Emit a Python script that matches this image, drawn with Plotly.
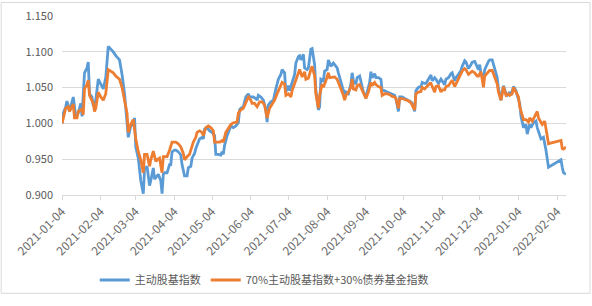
import pandas as pd
import plotly.graph_objects as go

start_date = "2021-01-04"
series_names = ["主动股基指数", "70%主动股基指数+30%债券基金指数"]

# day offsets from 2021-01-04 and index values
blue_days = [0, 1, 3, 4, 6, 9, 11, 13, 15, 16, 18, 20, 21, 22, 24, 25, 27, 29, 31, 33, 35, 37, 41, 43, 46, 48, 50,
             52, 53, 55, 57, 58, 59, 61, 63, 65, 66, 68, 70, 71, 73, 74, 75, 77, 79, 80, 81, 82, 84, 86, 87, 88,
             90, 91, 93, 95, 96, 98, 100, 101, 103, 104, 106, 107, 109, 110, 112, 113, 114, 116, 118, 120, 122,
             123, 125, 127, 128, 129, 130, 132, 134, 135, 137, 139, 141, 142, 143, 145, 147, 149, 150, 151, 153,
             155, 156, 157, 159, 161, 163, 164, 165, 167, 169, 171, 173, 175, 176, 178, 179, 181, 182, 184, 186,
             187, 189, 190, 191, 193, 194, 196, 197, 199, 200, 202, 203, 205, 206, 207, 209, 210, 212, 213, 215,
             217, 218, 220, 221, 223, 225, 226, 227, 229, 231, 232, 233, 235, 236, 238, 240, 241, 243, 244, 246,
             247, 248, 250, 251, 253, 255, 256, 258, 260, 262, 264, 266, 267, 269, 270, 272, 274, 277, 279, 280,
             282, 283, 285, 287, 288, 290, 291, 293, 295, 296, 298, 299, 301, 303, 304, 306, 307, 309, 311, 312,
             314, 315, 317, 319, 320, 322, 323, 325, 327, 328, 330, 332, 333, 334, 335, 337, 338, 341, 342, 344,
             346, 348, 349, 351, 352, 353, 355, 356, 358, 359, 361, 363, 364, 366, 367, 369, 371, 372, 374, 375,
             377, 379, 380, 382, 383, 385, 387, 389, 399, 400, 401, 403]
blue_vals = [1.000, 1.0144, 1.0234, 1.0311, 1.0167, 1.0369, 1.0099, 1.0144, 1.0279, 1.0099, 1.0707, 1.0775, 1.0856,
             1.0414, 1.0369, 1.0243, 1.0324, 1.0617, 1.0549, 1.0482, 1.0639, 1.1076, 1.0999, 1.0945, 1.0887, 1.0684,
             1.0414, 1.0054, 0.9806, 0.9964, 0.9986, 1.0077, 0.9671, 0.9514, 0.9199, 0.9018, 0.9356, 0.9401, 0.9131,
             0.9199, 0.9378, 0.9221, 0.9243, 0.9288, 0.9199, 0.9018, 0.9288, 0.9311, 0.9311, 0.9424, 0.9424, 0.9604,
             0.9626, 0.9626, 0.9604, 0.9559, 0.9424, 0.9266, 0.9266, 0.9379, 0.9401, 0.9514, 0.9581, 0.9649, 0.9739,
             0.9784, 0.9806, 0.9784, 0.9919, 0.9941, 0.9896, 0.9874, 0.9829, 0.9568, 0.9568, 0.9559, 0.9604, 0.9568,
             0.9694, 0.9829, 0.9919, 0.9964, 0.9941, 0.9964, 1.0009, 1.0189, 1.0212, 1.0234, 1.0369, 1.0414, 1.0369,
             1.0369, 1.0369, 1.0347, 1.0324, 1.0392, 1.0369, 1.0324, 1.0189, 1.0018, 1.0257, 1.0302, 1.0324, 1.0482,
             1.0617, 1.0684, 1.0752, 1.0707, 1.0437, 1.0527, 1.0459, 1.0572, 1.0684, 1.0842, 1.0932, 1.0945, 1.0887,
             1.0964, 1.0775, 1.0752, 1.0775, 1.1036, 1.1045, 1.0820, 1.0459, 1.0189, 1.0234, 1.0617, 1.0595, 1.0730,
             1.0752, 1.0887, 1.0797, 1.0842, 1.0820, 1.0775, 1.0707, 1.0595, 1.0459, 1.0347, 1.0437, 1.0414, 1.0549,
             1.0707, 1.0595, 1.0549, 1.0639, 1.0662, 1.0504, 1.0437, 1.0369, 1.0437, 1.0572, 1.0721, 1.0639, 1.0694,
             1.0639, 1.0639, 1.0617, 1.0459, 1.0459, 1.0437, 1.0423, 1.0414, 1.0392, 1.0347, 1.0167, 1.0369, 1.0369,
             1.0347, 1.0324, 1.0302, 1.0279, 1.0167, 1.0459, 1.0504, 1.0513, 1.0572, 1.0558, 1.0558, 1.0617, 1.0676,
             1.0595, 1.0639, 1.0617, 1.0558, 1.0617, 1.0595, 1.0541, 1.0617, 1.0639, 1.0694, 1.0707, 1.0595, 1.0639,
             1.0685, 1.0739, 1.0797, 1.0874, 1.0856, 1.0766, 1.0820, 1.0856, 1.0865, 1.0797, 1.0752, 1.0820, 1.0694,
             1.0617, 1.0752, 1.0865, 1.0887, 1.0887, 1.0752, 1.0639, 1.0482, 1.0324, 1.0437, 1.0527, 1.0414, 1.0392,
             1.0437, 1.0392, 1.0514, 1.0459, 1.0392, 1.0279, 1.0099, 0.9941, 0.9986, 0.9851, 0.9986, 0.9941, 1.0009,
             1.0032, 0.9941, 0.9829, 0.9784, 0.9806, 0.9626, 0.9388, 0.9491, 0.9388, 0.9311, 0.9289]

orange_days = [0, 2, 3, 5, 6, 9, 10, 12, 13, 16, 17, 18, 20, 21, 22, 25, 26, 27, 29, 31, 33, 35, 37, 41, 43, 46, 48,
               50, 52, 53, 55, 57, 59, 61, 63, 65, 66, 68, 70, 71, 73, 75, 76, 78, 80, 81, 83, 84, 86, 88, 89, 91,
               93, 95, 97, 98, 100, 102, 103, 105, 107, 108, 110, 112, 113, 115, 117, 119, 121, 122, 124, 126, 128,
               129, 131, 134, 135, 137, 140, 141, 143, 145, 147, 149, 151, 152, 154, 156, 158, 160, 162, 164, 166,
               168, 170, 172, 174, 176, 178, 179, 181, 183, 184, 186, 188, 190, 192, 194, 195, 197, 199, 200, 202,
               203, 205, 206, 208, 209, 211, 213, 214, 216, 218, 220, 221, 223, 225, 226, 227, 229, 231, 232, 233,
               235, 236, 238, 240, 242, 243, 245, 247, 248, 250, 251, 253, 255, 256, 258, 260, 262, 264, 266, 267,
               269, 270, 272, 274, 277, 279, 280, 282, 283, 285, 287, 288, 290, 292, 294, 295, 296, 298, 299, 301,
               303, 304, 306, 307, 309, 311, 312, 314, 315, 317, 319, 320, 322, 323, 325, 327, 328, 330, 332, 333,
               335, 337, 338, 341, 342, 344, 346, 348, 349, 351, 352, 353, 355, 357, 358, 360, 361, 363, 365, 366,
               368, 369, 371, 373, 374, 376, 378, 380, 381, 383, 384, 386, 387, 389, 399, 400, 401, 403]
orange_vals = [1.000, 1.0144, 1.0212, 1.0234, 1.0167, 1.0270, 1.0077, 1.0077, 1.0167, 1.0198, 1.0122, 1.0482, 1.0541,
               1.0603, 1.0392, 1.0279, 1.0167, 1.0212, 1.0437, 1.0369, 1.0324, 1.0414, 1.0752, 1.0707, 1.0662, 1.0617,
               1.0504, 1.0324, 1.0144, 0.9874, 0.9986, 1.0054, 0.9784, 0.9604, 0.9491, 0.9311, 0.9568, 0.9568, 0.9401,
               0.9491, 0.9613, 0.9468, 0.9491, 0.9514, 0.9311, 0.9536, 0.9536, 0.9536, 0.9626, 0.9739, 0.9739, 0.9739,
               0.9716, 0.9671, 0.9581, 0.9491, 0.9536, 0.9568, 0.9626, 0.9739, 0.9806, 0.9874, 0.9896, 0.9874, 0.9829,
               0.9941, 0.9964, 0.9941, 0.9896, 0.9739, 0.9739, 0.9739, 0.9761, 0.9739, 0.9874, 0.9964, 0.9986, 1.0009,
               1.0018, 1.0144, 1.0189, 1.0212, 1.0302, 1.0369, 1.0324, 1.0279, 1.0279, 1.0234, 1.0302, 1.0302, 1.0257,
               1.0077, 1.0212, 1.0279, 1.0324, 1.0414, 1.0504, 1.0572, 1.0549, 1.0392, 1.0414, 1.0369, 1.0459, 1.0549,
               1.0639, 1.0752, 1.0649, 1.0721, 1.0617, 1.0631, 1.0752, 1.0797, 1.0662, 1.0414, 1.0212, 1.0392, 1.0549,
               1.0504, 1.0595, 1.0707, 1.0639, 1.0639, 1.0649, 1.0617, 1.0572, 1.0504, 1.0392, 1.0324, 1.0392, 1.0437,
               1.0504, 1.0617, 1.0482, 1.0468, 1.0527, 1.0541, 1.0459, 1.0369, 1.0347, 1.0437, 1.0572, 1.0527, 1.0572,
               1.0541, 1.0514, 1.0504, 1.0392, 1.0414, 1.0414, 1.0401, 1.0378, 1.0369, 1.0347, 1.0212, 1.0347, 1.0347,
               1.0333, 1.0315, 1.0288, 1.0257, 1.0189, 1.0414, 1.0437, 1.0446, 1.0504, 1.0482, 1.0527, 1.0558, 1.0558,
               1.0514, 1.0437, 1.0514, 1.0527, 1.0437, 1.0468, 1.0468, 1.0514, 1.0527, 1.0572, 1.0603, 1.0514, 1.0549,
               1.0617, 1.0676, 1.0730, 1.0766, 1.0752, 1.0685, 1.0707, 1.0730, 1.0707, 1.0662, 1.0662, 1.0721, 1.0504,
               1.0662, 1.0721, 1.0739, 1.0739, 1.0639, 1.0549, 1.0437, 1.0324, 1.0414, 1.0514, 1.0392, 1.0414, 1.0392,
               1.0414, 1.0504, 1.0437, 1.0369, 1.0234, 1.0099, 1.0054, 1.0054, 1.0018, 1.0077, 1.0032, 1.0099, 1.0167,
               1.0077, 1.0000, 0.9986, 1.0032, 0.9919, 0.9716, 0.9761, 0.9649, 0.9640, 0.9671]

tick_labels = ["2021-01-04", "2021-02-04", "2021-03-04", "2021-04-04", "2021-05-04", "2021-06-04", "2021-07-04",
               "2021-08-04", "2021-09-04", "2021-10-04", "2021-11-04", "2021-12-04", "2022-01-04", "2022-02-04"]
y_ticks = [0.900, 0.950, 1.000, 1.050, 1.100, 1.150]

base = pd.Timestamp(start_date)
blue_dates = base + pd.to_timedelta(blue_days, unit="D")
orange_dates = base + pd.to_timedelta(orange_days, unit="D")

font_cjk = "Noto Sans CJK SC, Noto Sans, sans-serif"

fig = go.Figure()
fig.add_trace(go.Scatter(x=blue_dates, y=blue_vals, mode="lines", name=series_names[0],
                         line=dict(color="#5B9BD5", width=2.8)))
fig.add_trace(go.Scatter(x=orange_dates, y=orange_vals, mode="lines", name=series_names[1],
                         line=dict(color="#ED7D31", width=2.8)))

fig.update_layout(
    width=592, height=306,
    margin=dict(l=62, r=26, t=16, b=105),
    paper_bgcolor="white", plot_bgcolor="white",
    font=dict(family=font_cjk, size=11, color="#595959"),
    showlegend=True,
    legend=dict(orientation="h", x=0.065, xanchor="left", y=-0.475, yanchor="middle",
                font=dict(size=11, color="#595959"), itemwidth=30, bgcolor="rgba(0,0,0,0)"),
)
fig.update_xaxes(
    type="date",
    automargin=False,
    range=[start_date, "2022-02-11"],
    tickmode="array",
    tickvals=pd.to_datetime(tick_labels),
    ticktext=tick_labels,
    tickangle=-45,
    ticks="outside", ticklen=4, tickcolor="#d9d9d9",
    showline=True, linecolor="#d9d9d9", linewidth=1,
    showgrid=False, zeroline=False,
    tickfont=dict(size=12, color="#6b6b6b"),
)
fig.update_yaxes(
    automargin=False,
    range=[0.9, 1.15],
    tickmode="array", tickvals=y_ticks, ticktext=[f"{v:.3f}" for v in y_ticks],
    showgrid=True, gridcolor="#d9d9d9", gridwidth=1,
    zeroline=False, showline=False,
    tickfont=dict(size=11, color="#595959"),
    ticks="", ticklabelstandoff=8,
)
fig.add_shape(type="rect", xref="paper", yref="paper", x0=-0.1206, x1=1.0477, y0=-0.549, y1=1.0756,
              line=dict(color="#d9d9d9", width=1), layer="below")

fig.write_html("out.html")
